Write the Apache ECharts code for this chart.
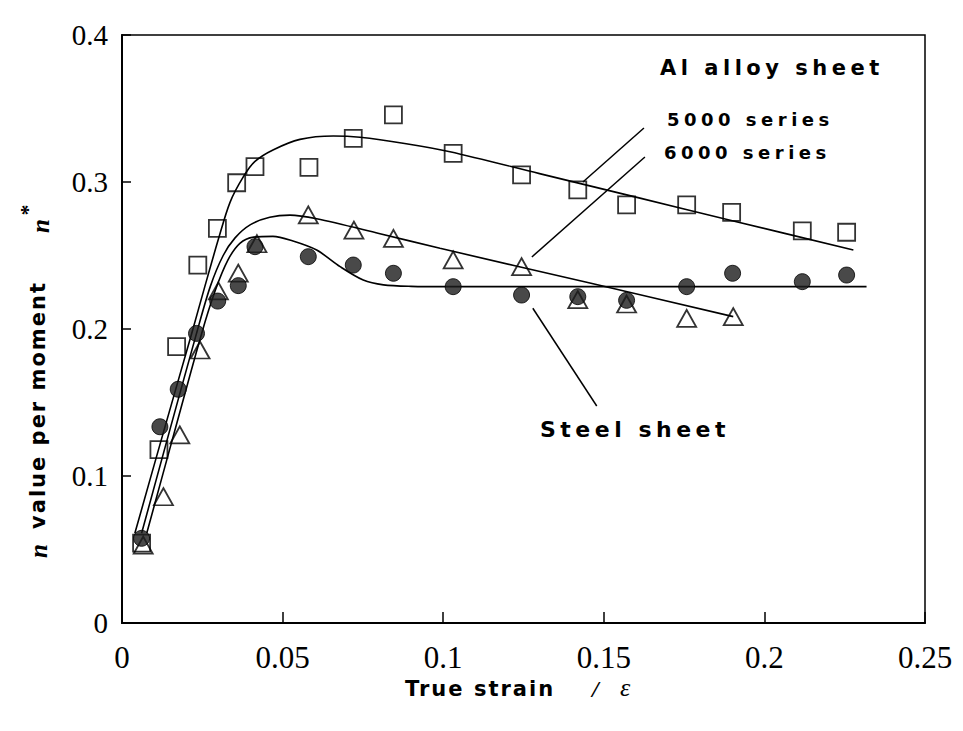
<!DOCTYPE html>
<html>
<head>
<meta charset="utf-8">
<script src="https://cdn.jsdelivr.net/npm/echarts@6/dist/echarts.min.js"></script>
<style>
html,body{margin:0;padding:0;background:#fff;}
#c{width:963px;height:731px;}
#c text[style*="DejaVu"], #c text[font-family*="DejaVu"]{letter-spacing:4.5px;}
#c text[style*="sans-serif"], #c text[font-family*="sans-serif"]{letter-spacing:2px;}
</style>
</head>
<body>
<div id="c"></div>
<script>
// ---- data ----
const xTicks = [0, 0.05, 0.1, 0.15, 0.2, 0.25];
const yTicks = [0, 0.1, 0.2, 0.3, 0.4];

// Al alloy 5000 series (squares)
const s5000Points = [[0.0061,0.0544],[0.0115,0.1180],[0.0170,0.1880],[0.0236,0.2435],[0.0297,0.2685],[0.0357,0.2995],[0.0414,0.3104],[0.0582,0.3100],[0.0720,0.3297],[0.0845,0.3456],[0.1031,0.3195],[0.1244,0.3048],[0.1419,0.2946],[0.1571,0.2844],[0.1758,0.2844],[0.1898,0.2793],[0.2118,0.2667],[0.2256,0.2658]];
// Al alloy 6000 series (triangles)
const s6000Points = [[0.0066,0.0530],[0.0129,0.0859],[0.0180,0.1280],[0.0243,0.1857],[0.0300,0.2260],[0.0362,0.2380],[0.0420,0.2580],[0.0580,0.2776],[0.0722,0.2673],[0.0845,0.2617],[0.1031,0.2470],[0.1244,0.2424],[0.1419,0.2200],[0.1571,0.2170],[0.1758,0.2072],[0.1903,0.2084]];
// Steel sheet (filled circles)
const steelPoints = [[0.0061,0.0576],[0.0118,0.1335],[0.0175,0.1590],[0.0232,0.1970],[0.0298,0.2190],[0.0362,0.2295],[0.0414,0.2560],[0.0580,0.2492],[0.0720,0.2435],[0.0845,0.2379],[0.1031,0.2288],[0.1244,0.2231],[0.1419,0.2220],[0.1571,0.2195],[0.1758,0.2288],[0.1901,0.2379],[0.2118,0.2322],[0.2256,0.2367]];

// fitted curves
const s5000Fit = [[0.0040,0.061],[0.0128,0.129],[0.0217,0.197],[0.0258,0.229],[0.0300,0.261],[0.0336,0.2860],[0.0378,0.3036],[0.0414,0.3140],[0.0470,0.3218],[0.0554,0.3290],[0.0658,0.3313],[0.0741,0.3304],[0.0880,0.3262],[0.1021,0.3206],[0.1300,0.3057],[0.1600,0.2897],[0.1900,0.2737],[0.2277,0.2537]];
const s6000Fit = [[0.0061,0.061],[0.0146,0.129],[0.0232,0.197],[0.0275,0.229],[0.0315,0.2500],[0.0352,0.2620],[0.0400,0.2710],[0.0460,0.2760],[0.0523,0.2775],[0.0606,0.2750],[0.0800,0.2650],[0.0990,0.2549],[0.1450,0.2316],[0.1903,0.2084]];
const steelFit = [[0.0077,0.061],[0.0162,0.129],[0.0248,0.197],[0.0290,0.226],[0.0330,0.2470],[0.0367,0.2583],[0.0410,0.2625],[0.0470,0.2630],[0.0530,0.2600],[0.0606,0.2537],[0.0679,0.2424],[0.0751,0.2333],[0.0814,0.2300],[0.0900,0.2290],[0.1021,0.2288],[0.1600,0.2288],[0.2318,0.2288]];

// annotation leader lines (data coordinates)
const lead5000 = [[0.1625,0.3367],[0.1435,0.3000]];
const lead6000 = [[0.1628,0.3170],[0.1276,0.2490]];
const leadSteel = [[0.1279,0.2141],[0.1478,0.1476]];

const SANS = '"DejaVu Sans"';
const SANS2 = '"DejaVu Sans", sans-serif';
const SERIF = '"Liberation Serif"';

const chart = echarts.init(document.getElementById('c'), null, {renderer:'svg'});

function lead(p){
  return [{coord:p[0]},{coord:p[1]}];
}
function fitSeries(name, data){
  return {type:'line',name:name,data:data,showSymbol:false,smooth:0.3,
    lineStyle:{color:'#000',width:1.6},z:2};
}

const fit1 = fitSeries('5000 fit', s5000Fit);
fit1.markLine = {silent:true,symbol:['none','none'],label:{show:false},
  lineStyle:{color:'#000',width:1.5,type:'solid'},
  data:[lead(lead5000),lead(lead6000),lead(leadSteel)]};

chart.setOption({
  animation:false,
  backgroundColor:'#fff',
  grid:{left:122,right:38,top:35,bottom:108,show:true,borderColor:'#000',borderWidth:1.5,backgroundColor:'transparent'},
  xAxis:{
    type:'value',min:xTicks[0],max:xTicks[xTicks.length-1],interval:0.05,
    axisLine:{show:true,onZero:false,lineStyle:{color:'#000',width:2}},
    axisTick:{show:true,inside:true,length:11,lineStyle:{color:'#000',width:1.5}},
    splitLine:{show:false},
    axisLabel:{color:'#000',fontFamily:SERIF,fontSize:31,margin:19,
      formatter:function(v){return String(+v.toFixed(2));}}
  },
  yAxis:{
    type:'value',min:yTicks[0],max:yTicks[yTicks.length-1],interval:0.1,
    axisLine:{show:true,onZero:false,lineStyle:{color:'#000',width:2}},
    axisTick:{show:true,inside:true,length:9,lineStyle:{color:'#000',width:1.5}},
    splitLine:{show:false},
    axisLabel:{color:'#000',fontFamily:SERIF,fontSize:29,margin:14,
      formatter:function(v){return String(+v.toFixed(2));}}
  },
  graphic:[
    {type:'text',left:660,top:57,style:{text:'Al alloy sheet',fontFamily:SANS,fontWeight:'bold',fontSize:21,fill:'#000'}},
    {type:'text',left:667,top:110,style:{text:'5000 series',fontFamily:SANS,fontWeight:'bold',fontSize:18,fill:'#000'}},
    {type:'text',left:664,top:143,style:{text:'6000 series',fontFamily:SANS,fontWeight:'bold',fontSize:18,fill:'#000'}},
    {type:'text',left:540,top:418,style:{text:'Steel sheet',fontFamily:SANS,fontWeight:'bold',fontSize:22,fill:'#000'}},
    {type:'text',left:405,top:678,style:{text:'True strain',fontFamily:SANS2,fontWeight:'bold',fontSize:21,fill:'#000'}},
    {type:'text',left:592,top:677,style:{text:'/',fontFamily:SERIF,fontStyle:'italic',fontWeight:'bold',fontSize:24,fill:'#000'}},
    {type:'text',left:620,top:674,style:{text:'ε',fontFamily:SERIF,fontStyle:'italic',fontSize:26,fill:'#000'}},
    // y axis title pieces (rotated, reading bottom-to-top)
    {type:'text',x:38,y:551,rotation:Math.PI/2,style:{text:'n',x:0,y:0,align:'center',verticalAlign:'middle',fontFamily:SERIF,fontStyle:'italic',fontWeight:'bold',fontSize:25,fill:'#000'}},
    {type:'text',x:38,y:405,rotation:Math.PI/2,style:{text:'value per moment',x:0,y:0,align:'center',verticalAlign:'middle',fontFamily:SANS2,fontWeight:'bold',fontSize:21,fill:'#000'}},
    {type:'text',x:40,y:226,rotation:Math.PI/2,style:{text:'n',x:0,y:0,align:'center',verticalAlign:'middle',fontFamily:SERIF,fontStyle:'italic',fontWeight:'bold',fontSize:25,fill:'#000'}},
    {type:'text',x:27,y:210,rotation:Math.PI/2,style:{text:'*',x:0,y:0,align:'center',verticalAlign:'middle',fontFamily:SERIF,fontWeight:'bold',fontSize:22,fill:'#000'}}
  ],
  series:[
    fit1,
    fitSeries('6000 fit', s6000Fit),
    fitSeries('Steel fit', steelFit),
    {type:'scatter',name:'5000 series',data:s5000Points,symbol:'rect',symbolSize:17,
      itemStyle:{color:'transparent',borderColor:'#000',borderWidth:1.8},z:3},
    {type:'scatter',name:'6000 series',data:s6000Points,symbol:'triangle',symbolSize:[19,17],
      itemStyle:{color:'transparent',borderColor:'#000',borderWidth:1.8},z:3},
    {type:'scatter',name:'Steel sheet',data:steelPoints,symbol:'circle',symbolSize:16,
      itemStyle:{color:'#1c1c1c',borderColor:'#000',borderWidth:1},z:3}
  ]
});
</script>
</body>
</html>
